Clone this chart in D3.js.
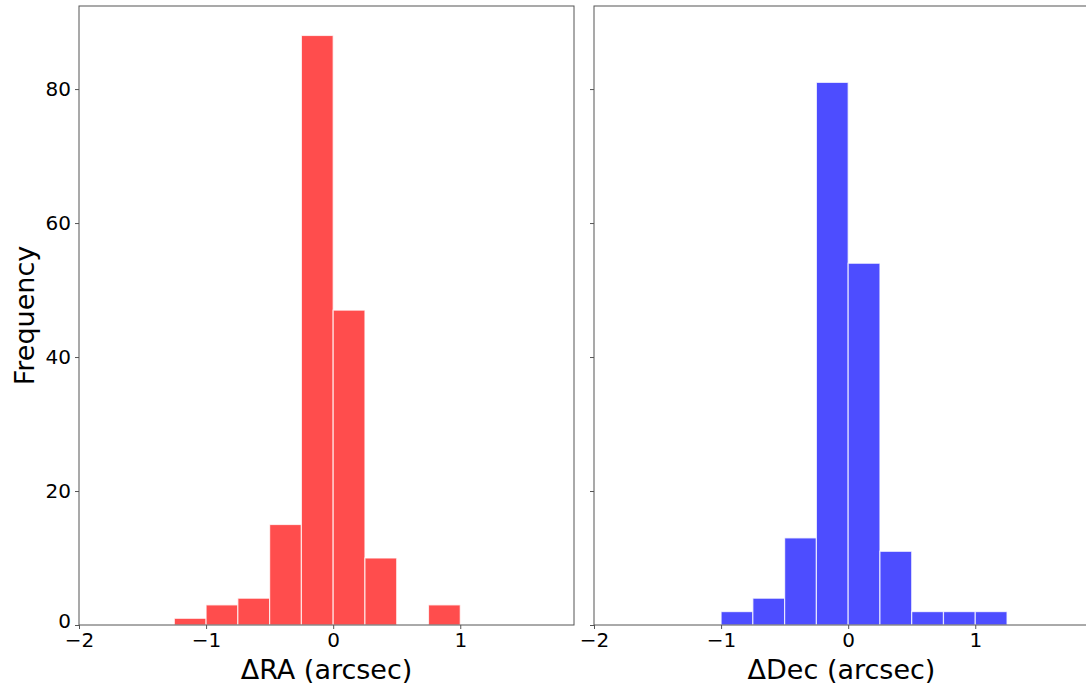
<!DOCTYPE html>
<html>
<head>
<meta charset="utf-8">
<script src="https://cdn.jsdelivr.net/npm/d3@7"></script>
<style>
  html, body { margin: 0; padding: 0; background: #fff; }
  svg { display: block; font-family: "DejaVu Sans", sans-serif; }
</style>
</head>
<body>
<svg id="chart" width="1086" height="688"></svg>
<script>
// Histogram bins (arcsec), width 0.25
const raBinStarts  = [-1.25, -1.0, -0.75, -0.5, -0.25, 0.0, 0.25, 0.75];
const raCounts     = [1, 3, 4, 15, 88, 47, 10, 3];
const decBinStarts = [-1.0, -0.75, -0.5, -0.25, 0.0, 0.25, 0.5, 0.75, 1.0];
const decCounts    = [2, 4, 13, 81, 54, 11, 2, 2, 2];
const binWidth = 0.25;

const xTicks = [-2, -1, 0, 1];
const yTicks = [0, 20, 40, 60, 80];
const xDomain = [-2, 1.895];
const yDomain = [0, 92.4];

const panels = [
  { starts: raBinStarts,  counts: raCounts,  color: "#ff4d4d", label: "\u0394RA (arcsec)",  left: 79,  yLabels: true },
  { starts: decBinStarts, counts: decCounts, color: "#4d4dff", label: "\u0394Dec (arcsec)", left: 594, yLabels: false }
];

const svg = d3.select("#chart");
const panelW = 495, plotTop = 6, plotBottom = 625;
const y = d3.scaleLinear().domain(yDomain).range([plotBottom, plotTop]);
const spine = "#555";

panels.forEach(p => {
  const x = d3.scaleLinear().domain(xDomain).range([p.left, p.left + panelW]);
  const g = svg.append("g");

  // bars
  g.selectAll("rect.bar")
    .data(p.starts.map((s, i) => ({ x0: s, x1: s + binWidth, n: p.counts[i] })))
    .enter().append("rect")
    .attr("class", "bar")
    .attr("x", d => x(d.x0))
    .attr("width", d => x(d.x1) - x(d.x0))
    .attr("y", d => y(d.n))
    .attr("height", d => y(0) - y(d.n))
    .attr("fill", p.color)
    .attr("stroke", "rgba(255,255,255,0.75)")
    .attr("stroke-width", 1.2);

  // axes
  const xAxis = d3.axisBottom(x).tickValues(xTicks).tickSize(4).tickPadding(4)
    .tickFormat(d => d < 0 ? "\u2212" + Math.abs(d) : d);
  const gx = g.append("g").attr("transform", `translate(0,${plotBottom})`).call(xAxis);
  gx.select(".domain").remove();
  gx.selectAll(".tick line").attr("stroke", spine);
  gx.selectAll(".tick text").attr("font-size", 20).attr("fill", "#000")
    .attr("font-family", "DejaVu Sans, sans-serif");

  const yAxis = d3.axisLeft(y).tickValues(yTicks).tickSize(4).tickPadding(4)
    .tickFormat(p.yLabels ? d3.format("d") : () => "");
  const gy = g.append("g").attr("transform", `translate(${p.left},0)`).call(yAxis);
  gy.select(".domain").remove();
  gy.selectAll(".tick line").attr("stroke", spine);
  gy.selectAll(".tick text").attr("font-size", 20).attr("fill", "#000")
    .attr("font-family", "DejaVu Sans, sans-serif");
  // lift the zero label a touch so it clears the x tick label below
  gy.selectAll(".tick").filter(d => d === 0).select("text").attr("dy", "0.1em");

  // frame
  g.append("rect")
    .attr("x", p.left).attr("y", plotTop)
    .attr("width", panelW).attr("height", plotBottom - plotTop)
    .attr("fill", "none").attr("stroke", spine).attr("stroke-width", 1);

  // x label
  g.append("text")
    .attr("x", p.left + panelW / 2).attr("y", 679)
    .attr("text-anchor", "middle")
    .attr("font-size", 27)
    .attr("fill", "#000")
    .text(p.label);
});

// shared y label
svg.append("text")
  .attr("transform", `translate(34,${(plotTop + plotBottom) / 2}) rotate(-90)`)
  .attr("text-anchor", "middle")
  .attr("font-size", 27)
  .attr("fill", "#000")
  .text("Frequency");
</script>
</body>
</html>
